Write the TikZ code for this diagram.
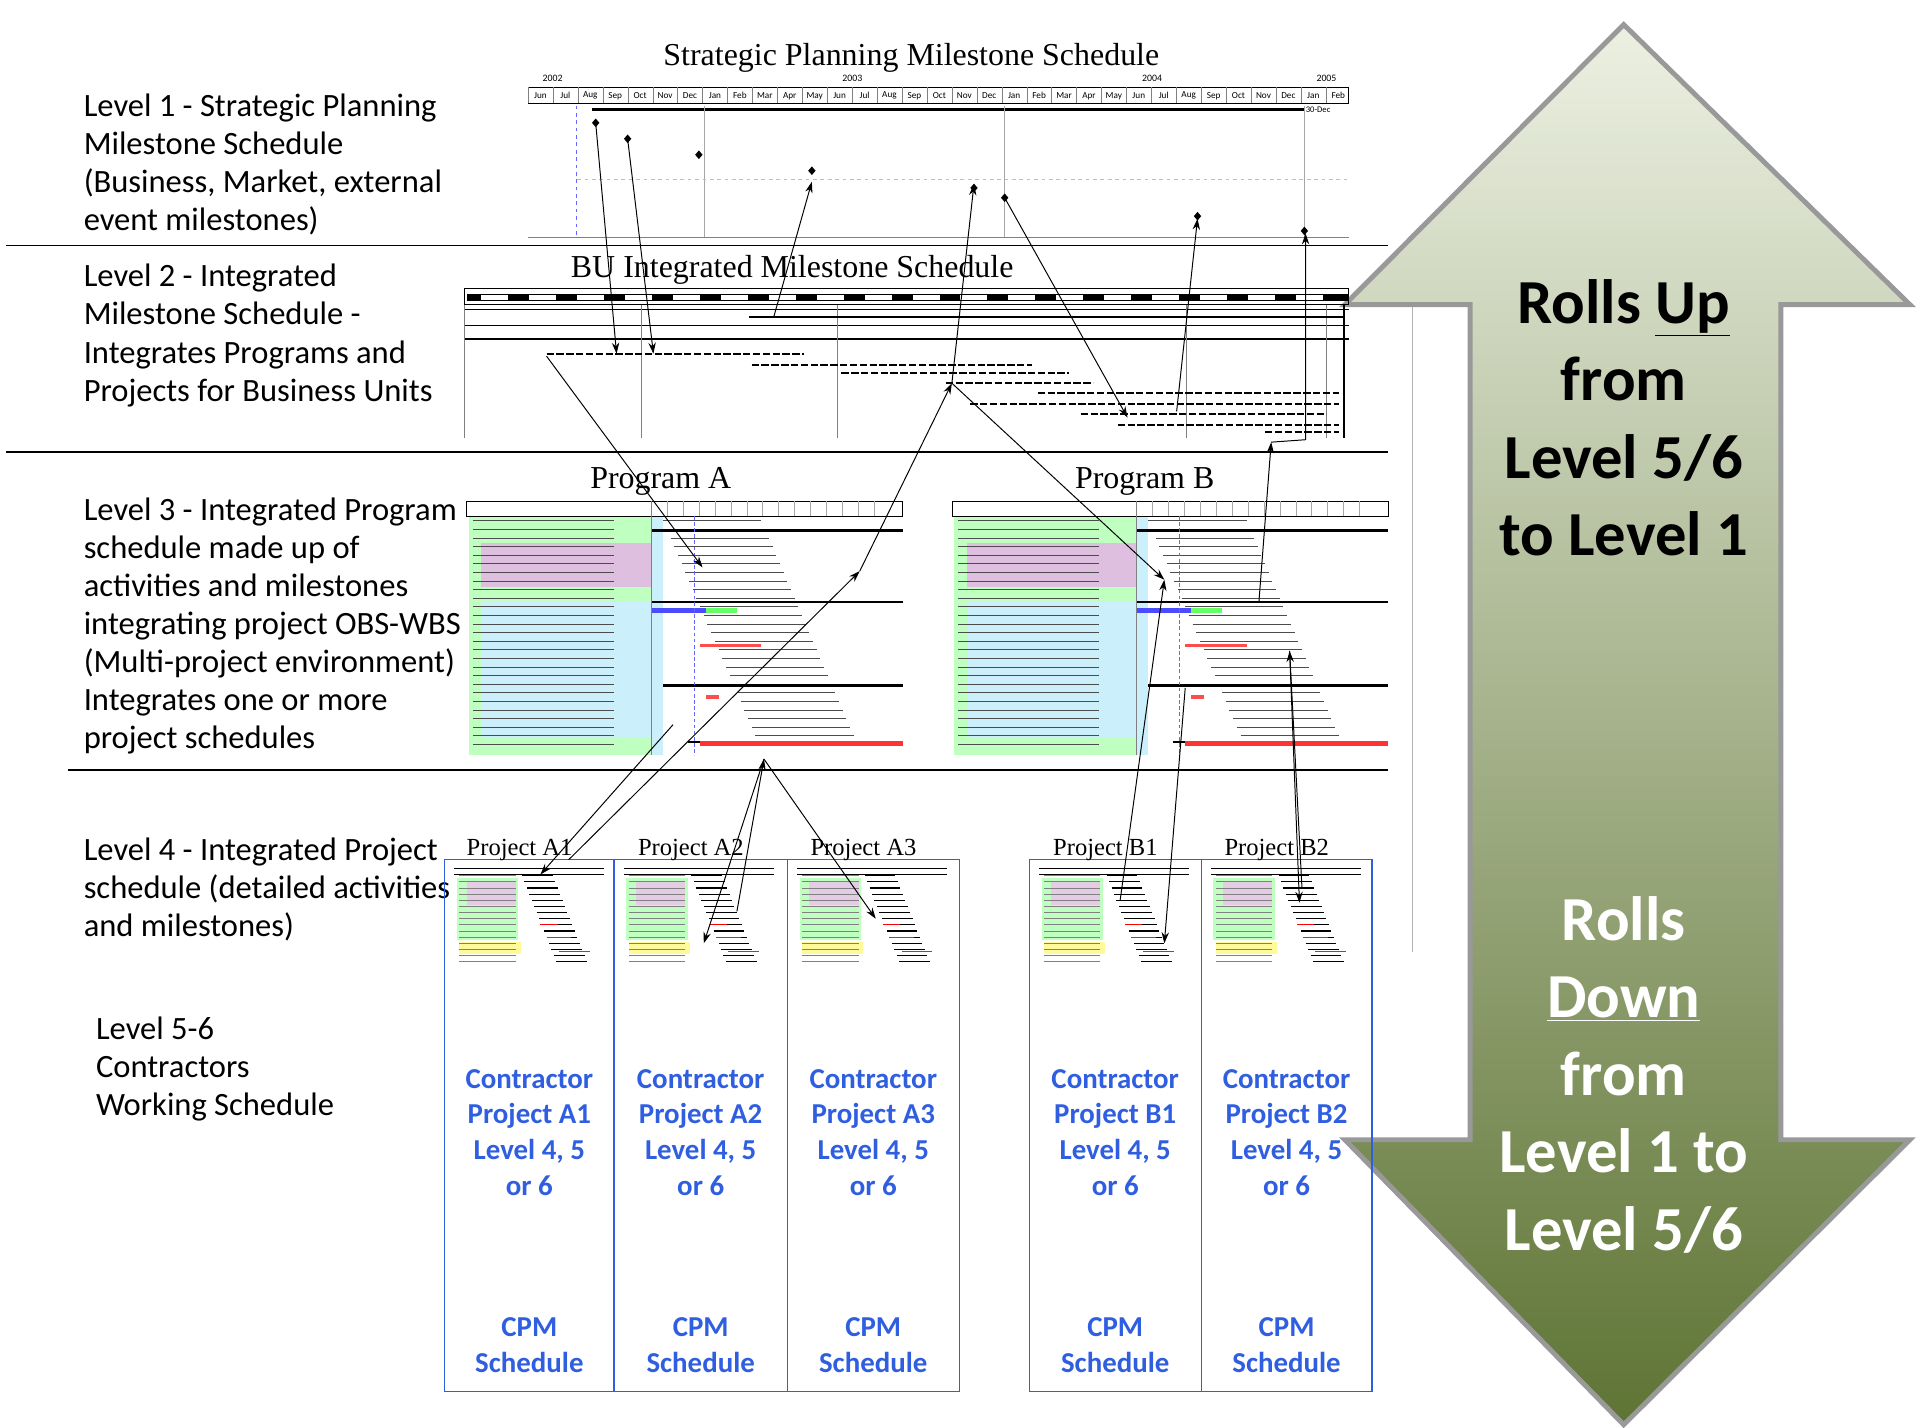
\documentclass[tikz,border=0pt]{standalone}
\usepackage{fontspec}
\setmainfont{Carlito}
\newfontfamily\tms{Liberation Serif}
\usetikzlibrary{arrows.meta,shadings}
\definecolor{cblue}{HTML}{2F5FE0}
\definecolor{agreen}{HTML}{5E7434}
\definecolor{alight}{HTML}{ECF0E2}
\tikzset{
 lvl/.style={anchor=north west,align=left,font=\fontsize{26.5}{31}\selectfont,inner sep=0},
 ttl/.style={font=\tms\fontsize{26}{28}\selectfont,inner sep=0},
 pttl/.style={font=\tms\fontsize{20}{22}\selectfont,inner sep=0},
 sep/.style={line width=1pt},
 con/.style={-{Stealth[length=9pt,width=6pt]},line width=0.8pt},
 cbox/.style={draw=cblue,line width=1pt},
 ctext/.style={font=\bfseries\fontsize{23.5}{29}\selectfont,text=cblue,align=center},
}
\newcommand{\minigantt}[2]{% x y (top-left), 122x92
 \fill[white] (#1,#2) rectangle ++(122,92);
 \fill[green!25] (#1+2,#2+12) rectangle ++(50,50);
 \fill[violet!20] (#1+10,#2+14) rectangle ++(40,20);
 \fill[yellow!40] (#1+4,#2+64) rectangle ++(50,10);
 \foreach \k in {0,...,14}{\draw[gray,line width=0.6pt] (#1+4,#2+10+5*\k) -- ++(46,0);
   \draw[black,line width=0.9pt] (#1+55+2*\k,#2+10+5*\k) -- ++(25,0);}
 \draw[black,line width=0.8pt] (#1,#2+4) -- ++(122,0);
 \draw[black] (#1,#2+9) -- ++(122,0);
 \draw[green!60!black,line width=1pt] (#1+75,#2+60) -- ++(20,0) (#1+85,#2+72)--++(25,0);
 \draw[red,line width=1pt] (#1+70,#2+50) -- ++(14,0);
}
\newcommand{\progtable}[1]{% x0, y 408-615, width 355
 \fill[green!25] (#1+2,420) rectangle (#1+150,615);
 \fill[violet!25] (#1+12,442) rectangle (#1+150,478);
 \fill[cyan!20] (#1+12,490) rectangle (#1+150,600);
 \fill[cyan!20] (#1+150,420) rectangle (#1+160,615);
 \draw (#1,408) rectangle (#1+355,420);
 \foreach \k in {0,...,14}{\draw[gray!70] (#1+150+13*\k,408) -- ++(0,12);}
 \foreach \k in {0,...,26}{
   \draw[gray!60!black,line width=0.5pt] (#1+5,424+7*\k) -- ++(115,0);
   \draw[black!70,line width=0.5pt] (#1+160+3*\k,424+7*\k) -- ++(80,0);}
 \draw[black,line width=2pt] (#1+150,432) -- ++(205,0) (#1+150,490) -- ++(205,0)
   (#1+160,558)--++(195,0) (#1+180,604)--++(175,0);
 \fill[blue!70] (#1+150,495) rectangle ++(45,4);
 \fill[green!60] (#1+195,495) rectangle ++(25,4);
 \fill[red!70] (#1+190,524) rectangle ++(50,3);
 \fill[red!80] (#1+190,603) rectangle ++(165,4);
 \fill[red!70] (#1+195,566) rectangle ++(10,3);
 \draw[gray] (#1+150,408) -- (#1+150,615);
 \draw[blue!60,densely dashed] (#1+185,420) -- (#1+185,615);
}
\begin{document}
\begin{tikzpicture}[x=1pt,y=-1pt]
\useasboundingbox (0,0) rectangle (1560,1162);
\fill[white] (0,0) rectangle (1560,1162);
% big arrow
\shade[top color=alight,bottom color=agreen,draw=gray!80,line width=4pt,line join=miter]
 (1322,20) -- (1555,248) -- (1450,248) -- (1450,928) -- (1555,928) -- (1322,1160)
 -- (1095,928) -- (1197,928) -- (1197,248) -- (1095,248) -- cycle;
\node[font=\bfseries\fontsize{51}{63}\selectfont,align=center] (up) at (1322,340)
 {Rolls \underline{Up}\\from\\Level 5/6\\to Level 1};
\node[font=\bfseries\fontsize{51}{63}\selectfont,align=center,text=white] (down) at (1322,875)
 {Rolls\\\underline{Down}\\from\\Level 1 to\\Level 5/6};
% separators
\draw[sep] (5,200) -- (1130,200);
\draw[sep] (5,368) -- (1130,368);
\draw[sep] (55,627) -- (1130,627);
\draw[gray!60] (1150,250) -- (1150,775);
% level labels
\node[lvl] (l1) at (68,76) {Level 1 - Strategic Planning\\Milestone Schedule\\(Business, Market, external\\event milestones)};
\node[lvl] (l2) at (68,215) {Level 2 - Integrated\\Milestone Schedule -\\Integrates Programs and\\Projects for Business Units};
\node[lvl] (l3) at (68,405) {Level 3 - Integrated Program\\schedule made up of\\activities and milestones\\integrating project OBS-WBS\\(Multi-project environment)\\Integrates one or more\\project schedules};
\node[lvl] (l4) at (68,682) {Level 4 - Integrated Project\\schedule (detailed activities\\and milestones)};
\node[lvl] (l5) at (78,828) {Level 5-6\\Contractors\\Working Schedule};
% Level 1 chart
\node[ttl] (t1) at (742,47) {Strategic Planning Milestone Schedule};
\node[font=\fontsize{8}{9}\selectfont] at (450,64) {2002};
\node[font=\fontsize{8}{9}\selectfont] at (694,64) {2003};
\node[font=\fontsize{8}{9}\selectfont] at (938,64) {2004};
\node[font=\fontsize{8}{9}\selectfont] at (1080,64) {2005};
\draw (430,71) rectangle (1098,84);
\foreach \m [count=\i from 0] in {Jun,Jul,Aug,Sep,Oct,Nov,Dec,Jan,Feb,Mar,Apr,May,Jun,Jul,Aug,Sep,Oct,Nov,Dec,Jan,Feb,Mar,Apr,May,Jun,Jul,Aug,Sep,Oct,Nov,Dec,Jan,Feb}{
  \node[font=\fontsize{7.5}{8}\selectfont,inner sep=0] at (440+20.3*\i,78) {\m};
  \draw[gray] (430+20.3*\i,71) -- ++(0,13);}
\draw[line width=2pt] (482,89) -- (1062,89);
\node[font=\fontsize{7}{8}\selectfont,anchor=west,inner sep=1] at (1062,89) {30-Dec};
\draw[blue!60,dashed] (469,86) -- (469,193);
\foreach \x in {573,818,1062}{\draw[gray!70] (\x,86) -- (\x,193);}
\draw[gray!50,dashed] (470,146) -- (1098,146);
\draw[gray] (430,193) -- (1098,193);
\foreach \p in {(485,100),(511,113),(569,126),(661,139),(793,153),(818,161),(975,176),(1062,188)}{
 \fill \p ++(0,-3.5) -- ++(3,3.5) -- ++(-3,3.5) -- ++(-3,-3.5) -- cycle;}
% Level 2 chart
\node[ttl] (t2) at (645,220) {BU Integrated Milestone Schedule};
\draw (378,235) rectangle (1098,248);
\fill (380,239) rectangle (1098,245);
\foreach \i in {0,...,17}{\fill[white] (392+39*\i,240) rectangle ++(22,4);}
\draw[line width=1.5pt] (378,252) -- (1098,252) (378,265) -- (1098,265) (378,276) -- (1098,276);
\draw[line width=1.5pt] (1094,248) -- (1094,357);
\foreach \x in {378,522,682,966,1080}{\draw[gray] (\x,248) -- (\x,357);}
\foreach \y/\a/\b in {288/445/655,297/612/840,304/685/870,312/770/890,320/845/1090,329/790/1090,337/880/1080,346/910/1090,352/1030/1090}{
 \draw[line width=1.6pt,dash pattern=on 6pt off 2pt] (\a,\y) -- (\b,\y);}
\draw[line width=1.2pt] (610,258) -- (1094,258);
% Level 3
\node[ttl] (pa) at (538,392) {Program A};
\node[ttl] (pb) at (932,392) {Program B};
\progtable{380}
\progtable{775}
% Level 4 boxes
\foreach \n/\x/\w/\lab in {a1/362/138/A1,a2/500/141/A2,a3/641/140/A3,b1/838/140/B1,b2/978/139/B2}{
 \draw[cbox] (\x,700) rectangle ++(\w,433);
 \node[pttl,anchor=south] (\n) at (\x+\w/2-8,701) {Project \lab};
 \minigantt{\x+8}{703}
 \node[ctext] (c\n) at (\x+\w/2,922) {Contractor\\Project \lab\\Level 4, 5\\or 6};
 \node[ctext] (s\n) at (\x+\w/2,1095) {CPM\\Schedule};}
% connectors
\coordinate (d1) at (485,100); \coordinate (d2) at (511,113); \coordinate (d4) at (661,148);
\coordinate (d5) at (793,150); \coordinate (d6) at (818,161); \coordinate (d7) at (975,178);
\coordinate (m1) at (502,288); \coordinate (m2) at (532,288); \coordinate (m3) at (630,258);
\coordinate (m5) at (775,312); \coordinate (m6) at (918,340); \coordinate (m7) at (958,335);
\coordinate (m8) at (1035,360);
\coordinate (p1) at (572,462); \coordinate (p2) at (948,472); \coordinate (p3) at (1050,530);
\coordinate (p4) at (700,465); \coordinate (p5) at (1025,490);
\coordinate (q1) at (622,618); \coordinate (q3) at (548,590);
\coordinate (q5) at (965,560);
\coordinate (r1) at (440,712); \coordinate (r2) at (463,700); \coordinate (r3) at (573,768);
\coordinate (r4) at (600,742); \coordinate (r5) at (713,748); \coordinate (r6) at (912,733);
\coordinate (r7) at (948,768); \coordinate (r8) at (1058,735); \coordinate (r9) at (1060,722);
\draw[con] (d1) -- (m1);
\draw[con] (d2) -- (m2);
\draw[con] (m3) -- (d4);
\draw[con] (m5) -- (d5);
\draw[con] (d6) -- (m6);
\draw[con] (m7) -- (d7);
\draw[con] (m8) -- (1063,358) -- (1063,190);
\draw[con] (445,290) -- (p1);
\draw[con] (p4) -- (m5);
\draw[con] (m5) -- (p2);
\draw[con] (p5) -- (m8);
\draw[con] (r2) -- (p4);
\draw[con] (q3) -- (r1);
\draw[con] (q1) -- (r3);
\draw[con] (r4) -- (q1);
\draw[con] (q1) -- (r5);
\draw[con] (r6) -- (p2);
\draw[con] (q5) -- (r7);
\draw[con] (r9) -- (p3);
\draw[con] (p3) -- (r8);
\end{tikzpicture}
\end{document}
